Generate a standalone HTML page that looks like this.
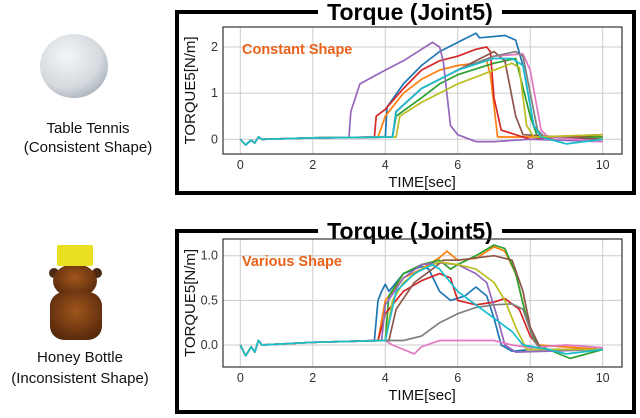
<!DOCTYPE html>
<html><head><meta charset="utf-8"><style>
body{margin:0;background:#fff}
svg{display:block}
text{font-family:"Liberation Sans","DejaVu Sans",sans-serif}
</style></head><body>
<svg id="fig" width="640" height="418" viewBox="0 0 640 418">
<defs>
<radialGradient id="ballg" cx="0.4" cy="0.35" r="0.7"><stop offset="0" stop-color="#f4f6f8"/><stop offset="0.7" stop-color="#d4d9de"/><stop offset="1" stop-color="#aab2ba"/></radialGradient>
<radialGradient id="honeyg" cx="0.5" cy="0.4" r="0.6"><stop offset="0" stop-color="#a0561c"/><stop offset="1" stop-color="#5a2a0c"/></radialGradient>
</defs>
<g>
<ellipse cx="74" cy="66" rx="34" ry="32" fill="url(#ballg)"/>
</g>
<text x="88" y="133" font-size="15" text-anchor="middle" fill="#111">Table Tennis</text>
<text x="88" y="152" font-size="15" text-anchor="middle" fill="#111">(Consistent Shape)</text>
<g>
<ellipse cx="54" cy="273" rx="5" ry="5" fill="#4a2a14"/>
<ellipse cx="97" cy="273" rx="5" ry="5" fill="#4a2a14"/>
<ellipse cx="75" cy="281" rx="22" ry="17" fill="url(#honeyg)"/>
<rect x="50" y="292" width="52" height="48" rx="14" fill="url(#honeyg)"/>
<rect x="57" y="245" width="36" height="21" rx="2" fill="#e8e020"/>
</g>
<text x="80" y="362" font-size="15" text-anchor="middle" fill="#111">Honey Bottle</text>
<text x="80" y="383" font-size="15" text-anchor="middle" fill="#111">(Inconsistent Shape)</text>
<g id="c1"></g>
<g id="c2"></g>
</svg>
<script>
const colors = ["#1f77b4","#ff7f0e","#2ca02c","#d62728","#9467bd","#8c564b","#e377c2","#7f7f7f","#bcbd22","#17becf"];
const seriesNames = ["blue","orange","green","red","purple","brown","pink","gray","olive","cyan"];
const xTicks = [0,2,4,6,8,10];
const yTicks1 = [0,1,2];
const yTickLabels1 = ["0","1","2"];
const yTicks2 = [0,0.5,1.0];
const yTickLabels2 = ["0.0","0.5","1.0"];
const prefix = [[0,0],[0.15,-0.12],[0.3,-0.02],[0.4,-0.08],[0.5,0.05],[0.6,0.0],[2,0.03],[3,0.04]];
// Chart 1: constant shape (time, torque)
const c1Blue = [[4.0,0.05],[4.05,0.7],[4.5,1.2],[5,1.6],[5.5,1.9],[6,2.1],[6.5,2.3],[6.6,2.2],[7.3,2.25],[7.6,2.15],[7.8,1.6],[8.1,0.3],[8.3,0.05],[10,0]];
const c1Orange = [[3.8,0.05],[4.0,0.5],[4.5,1.0],[5,1.3],[5.5,1.5],[6,1.6],[6.5,1.65],[6.8,1.7],[6.9,1.4],[7.1,0.05],[10,0.05]];
const c1Green = [[4.2,0.05],[4.3,0.5],[5,0.9],[5.5,1.2],[6,1.4],[7,1.65],[7.6,1.75],[8.0,0.5],[8.2,0.05],[10,0.05]];
const c1Red = [[3.7,0.05],[3.75,0.5],[4.0,0.65],[4.5,1.1],[5,1.5],[5.5,1.7],[6,1.8],[6.5,1.95],[6.8,2.0],[6.9,1.9],[7.0,0.9],[7.2,0.2],[8,0.0],[10,0.1]];
const c1Purple = [[3.0,0.05],[3.05,0.6],[3.3,1.2],[4,1.5],[4.5,1.7],[5.0,1.95],[5.3,2.1],[5.5,2.0],[5.6,1.7],[5.8,0.3],[6,0.1],[6.5,-0.05],[7,-0.05],[8,0.0],[10,-0.05]];
const c1Brown = [[4.2,0.05],[4.3,0.6],[5,1.1],[6,1.5],[6.5,1.7],[7,1.9],[7.3,1.7],[7.6,0.5],[7.8,0.1],[10,0]];
const c1Pink = [[4.2,0.05],[4.3,0.6],[5,1.1],[6,1.5],[7,1.8],[7.8,1.85],[8.0,1.5],[8.3,0.2],[8.5,0.05],[10,-0.05]];
const c1Gray = [[4.2,0.05],[4.3,0.6],[5.0,1.1],[6,1.5],[7,1.8],[7.6,1.9],[7.8,1.8],[8.2,0.2],[8.4,0.05],[10,0.1]];
const c1Olive = [[4.3,0.05],[4.4,0.5],[5,0.8],[6,1.2],[7,1.5],[7.5,1.65],[7.7,1.55],[7.9,0.3],[8.1,0.05],[10,0.1]];
const c1Cyan = [[4.2,0.05],[4.3,0.6],[5,1.1],[6,1.5],[7,1.75],[7.5,1.75],[7.8,1.6],[8.1,0.3],[8.3,0.05],[9,-0.1],[10,0]];
// Chart 2: various shape
const c2Blue = [[3.7,0.05],[3.8,0.5],[3.9,0.6],[4.0,0.68],[4.1,0.6],[4.5,0.8],[5.0,0.88],[5.2,0.85],[5.5,0.6],[5.8,0.5],[6.2,0.55],[6.5,0.65],[6.8,0.55],[7.0,0.3],[7.2,0.0],[7.5,-0.07],[8,-0.05],[10,-0.05]];
const c2Orange = [[3.8,0.05],[4.0,0.5],[4.5,0.75],[5,0.85],[5.5,0.98],[5.7,1.05],[6,0.95],[6.5,0.97],[7,1.1],[7.3,1.05],[7.6,0.8],[7.9,0.3],[8.2,0.0],[10,-0.05]];
const c2Green = [[4.0,0.05],[4.1,0.55],[4.5,0.8],[5,0.9],[5.5,0.95],[5.8,0.85],[6,0.9],[6.5,1.0],[7,1.12],[7.3,1.08],[7.6,0.8],[7.9,0.3],[8.2,0.0],[9.1,-0.15],[10,-0.05]];
const c2Red = [[3.8,0.05],[4.0,0.35],[4.5,0.6],[5,0.72],[5.5,0.8],[5.8,0.75],[6,0.5],[6.5,0.45],[7.0,0.48],[7.3,0.52],[7.7,0.4],[8.0,0.1],[8.3,-0.05],[10,-0.05]];
const c2Purple = [[3.9,0.05],[4.0,0.45],[4.5,0.75],[5,0.9],[5.5,0.92],[6,0.9],[6.5,0.8],[6.8,0.7],[7.1,0.3],[7.3,0.0],[7.6,-0.08],[10,-0.05]];
const c2Brown = [[4.1,0.05],[4.3,0.4],[4.8,0.7],[5.3,0.85],[5.6,0.95],[6,0.95],[7,1.0],[7.5,0.95],[7.8,0.6],[8.0,0.2],[8.3,-0.05],[10,-0.05]];
const c2Pink = [[4.0,0.05],[4.2,0.0],[4.5,-0.05],[4.8,-0.1],[5,-0.02],[5.5,0.05],[6,0.05],[6.5,0.05],[7,0.05],[7.5,0.0],[8,-0.03],[9,0.0],[10,-0.03]];
const c2Gray = [[4.0,0.05],[4.5,0.05],[5.0,0.1],[5.5,0.25],[6,0.35],[6.5,0.42],[7.0,0.45],[7.5,0.46],[7.8,0.4],[8.1,0.05],[8.3,-0.05],[10,-0.05]];
const c2Olive = [[4.0,0.05],[4.2,0.5],[4.5,0.7],[5.0,0.85],[5.5,0.93],[6,0.9],[6.5,0.85],[7,0.7],[7.3,0.5],[7.6,0.2],[7.9,-0.05],[10,-0.05]];
const c2Cyan = [[4.0,0.05],[4.3,0.6],[4.8,0.8],[5.3,0.9],[5.5,0.85],[6,0.6],[6.5,0.45],[7,0.3],[7.5,0.15],[7.8,0.0],[8.5,-0.05],[9.0,-0.1],[10,-0.05]];

const NS="http://www.w3.org/2000/svg";
function mk(tag,attrs,parent){const e=document.createElementNS(NS,tag);for(const k in attrs)e.setAttribute(k,attrs[k]);parent.appendChild(e);return e;}

function drawChart(g, cfg){
  const L=223,R=622,T=cfg.top,B=cfg.bottom;
  const xS=t=>240.3+(t-0)*(602.7-240.3)/10;
  const yS=v=>cfg.y0+(v-cfg.v0)*(cfg.y1-cfg.y0)/(cfg.v1-cfg.v0);
  const fr=mk("rect",{x:177,y:cfg.frameTop,width:457,height:cfg.frameBottom-cfg.frameTop,fill:"none",stroke:"#000","stroke-width":4},g);
  
  
  const tb=mk("rect",{x:318,y:cfg.frameTop-6,width:184,height:12,fill:"#fff"},g);
  
  
  const tt=mk("text",{x:410,y:cfg.frameTop+8,"text-anchor":"middle","font-size":23,"font-weight":"bold",fill:"#000"},g);
  tt.textContent="Torque (Joint5)";
  
  
  xTicks.forEach(t=>{
    const l=mk("line",{x1:xS(t),x2:xS(t),y1:T,y2:B,stroke:"#ccc","stroke-width":1},g);
    
    
    const tk=mk("text",{x:xS(t),y:B+15,"text-anchor":"middle","font-size":12.5,fill:"#333"},g);
    tk.textContent=String(t);
    
    
  });
  cfg.yTicks.forEach((v,i)=>{
    const l=mk("line",{x1:L,x2:R,y1:yS(v),y2:yS(v),stroke:"#ccc","stroke-width":1},g);
    
    
    const tk=mk("text",{x:L-5,y:yS(v)+4,"text-anchor":"end","font-size":12.5,fill:"#333"},g);
    tk.textContent=cfg.yLabels[i];
    
    
  });
  const ax=mk("rect",{x:L,y:T,width:R-L,height:B-T,fill:"none",stroke:"#333","stroke-width":1.2},g);
  
  
  cfg.series.forEach((s,i)=>{
    const pts=prefix.concat(s).map(p=>xS(p[0]).toFixed(1)+","+yS(p[1]).toFixed(1)).join(" ");
    const pl=mk("polyline",{points:pts,fill:"none",stroke:colors[i],"stroke-width":1.7,"stroke-linejoin":"round"},g);
    
    
  });
  const an=mk("text",{x:242,y:T+27,"font-size":14.5,"font-weight":"bold",fill:"#e8621a"},g);
  an.textContent=cfg.note;
  
  
  const xl=mk("text",{x:422,y:B+33,"text-anchor":"middle","font-size":15,fill:"#111"},g);
  xl.textContent="TIME[sec]";
  
  
  const cy=(T+B)/2;
  const yl=mk("text",{x:195,y:cy,"text-anchor":"middle","font-size":15,fill:"#111",transform:"rotate(-90 195 "+cy+")"},g);
  yl.textContent="TORQUE5[N/m]";
  
  
}
const g1=document.getElementById("c1");


const g2=document.getElementById("c2");


drawChart(g1,{top:27,bottom:154,frameTop:12,frameBottom:193,y0:139.3,y1:47,v0:0,v1:2,yTicks:yTicks1,yLabels:yTickLabels1,note:"Constant Shape",
  series:[c1Blue,c1Orange,c1Green,c1Red,c1Purple,c1Brown,c1Pink,c1Gray,c1Olive,c1Cyan]});
drawChart(g2,{top:239,bottom:367,frameTop:231,frameBottom:412,y0:345,y1:255.7,v0:0,v1:1,yTicks:yTicks2,yLabels:yTickLabels2,note:"Various Shape",
  series:[c2Blue,c2Orange,c2Green,c2Red,c2Purple,c2Brown,c2Pink,c2Gray,c2Olive,c2Cyan]});
</script>
</body></html>
